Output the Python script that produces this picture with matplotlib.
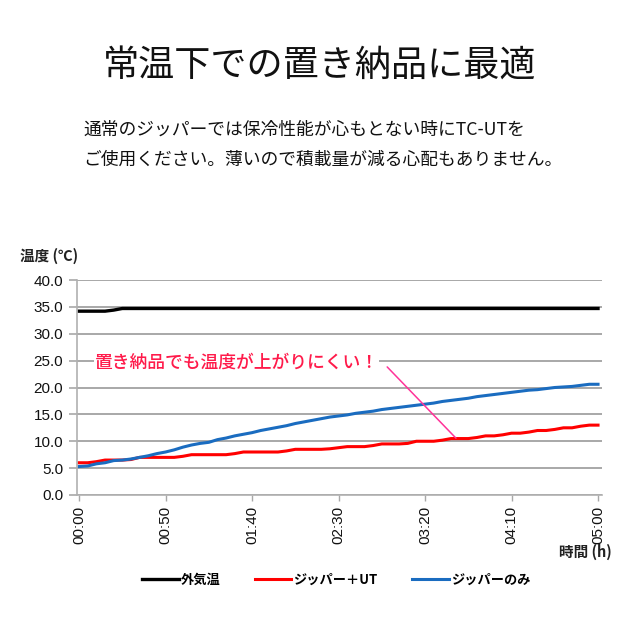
import matplotlib
matplotlib.use("Agg")
import matplotlib.pyplot as plt
import numpy as np

plt.rcParams['font.family'] = ['Noto Sans CJK JP', 'DejaVu Sans']

# ---- data ----
minutes = list(range(0, 301, 5))
outside = [34.2, 34.2, 34.2, 34.2, 34.4, 34.7] + [34.7] * 55
zipper_ut = [6.0, 6.0, 6.2, 6.5, 6.5, 6.5, 6.6, 7.0, 7.0, 7.0, 7.0, 7.0, 7.2, 7.5, 7.5, 7.5,
             7.5, 7.5, 7.7, 8.0, 8.0, 8.0, 8.0, 8.0, 8.2, 8.5, 8.5, 8.5, 8.5, 8.6, 8.8, 9.0,
             9.0, 9.0, 9.2, 9.5, 9.5, 9.5, 9.6, 10.0, 10.0, 10.0, 10.2, 10.5, 10.5, 10.5, 10.7,
             11.0, 11.0, 11.2, 11.5, 11.5, 11.7, 12.0, 12.0, 12.2, 12.5, 12.5, 12.8, 13.0, 13.0]
zipper_only = [5.3, 5.4, 5.8, 6.0, 6.4, 6.5, 6.7, 7.0, 7.3, 7.7, 8.0, 8.4, 8.9, 9.3, 9.6, 9.8,
               10.3, 10.6, 11.0, 11.3, 11.6, 12.0, 12.3, 12.6, 12.9, 13.3, 13.6, 13.9, 14.2,
               14.5, 14.7, 14.9, 15.2, 15.4, 15.6, 15.9, 16.1, 16.3, 16.5, 16.7, 16.9, 17.1,
               17.4, 17.6, 17.8, 18.0, 18.3, 18.5, 18.7, 18.9, 19.1, 19.3, 19.5, 19.6, 19.8,
               20.0, 20.1, 20.2, 20.4, 20.6, 20.6]
series_names = ['外気温', 'ジッパー＋UT', 'ジッパーのみ']
xtick_minutes = [0, 50, 100, 150, 200, 250, 300]
xtick_labels = ['00:00', '00:50', '01:40', '02:30', '03:20', '04:10', '05:00']
yticks = [0, 5, 10, 15, 20, 25, 30, 35, 40]

title = '常温下での置き納品に最適'
sub1 = '通常のジッパーでは保冷性能が心もとない時にTC-UTを'
sub2 = 'ご使用ください。薄いので積載量が減る心配もありません。'
note = '置き納品でも温度が上がりにくい！'

W, H = 640, 640
fig = plt.figure(figsize=(6.4, 6.4), dpi=100)
fig.patch.set_facecolor('white')

ax = fig.add_axes([77 / W, 1 - 495 / H, (602 - 77) / W, (495 - 280) / H])
ax.set_xlim(-1.2, 302.3)
ax.set_ylim(0, 40)

ax.set_yticks(yticks)
ax.set_yticklabels([f'{v:.1f}' for v in yticks])
ax.set_xticks(xtick_minutes)
ax.set_xticklabels(xtick_labels, rotation=90)
ax.yaxis.grid(True, color='#a8a8a8', linewidth=1.4)
ax.set_axisbelow(True)
for s in ['top', 'right']:
    ax.spines[s].set_visible(False)
ax.spines['left'].set_color('#b0b0b0')
ax.spines['bottom'].set_color('#b0b0b0')
ax.spines['left'].set_linewidth(1.2)
ax.spines['bottom'].set_linewidth(1.2)
ax.tick_params(axis='y', length=6, color='#a8a8a8', width=1.2, pad=4)
ax.tick_params(axis='x', length=4, color='#a8a8a8', width=1.0, pad=4)
for lab in ax.get_yticklabels() + ax.get_xticklabels():
    lab.set_family(['Liberation Sans', 'DejaVu Sans'])
    lab.set_fontsize(11)
    lab.set_color('#111111')

l1, = ax.plot(minutes, outside, color='#000000', lw=2.4, label=series_names[0])
l2, = ax.plot(minutes, zipper_ut, color='#ff0000', lw=2.2, label=series_names[1])
l3, = ax.plot(minutes, zipper_only, color='#1a6cc0', lw=2.2, label=series_names[2])

# annotation
ax.annotate('', xy=(219, 10.2), xytext=(177, 24.2),
            arrowprops=dict(arrowstyle='-', color='#ff3399', lw=1.1))
ax.text(9, 24.7, note, color='#ff1a4a', fontsize=12.8, fontweight='medium',
        va='center', ha='left',
        bbox=dict(facecolor='white', edgecolor='none', pad=0.5))

# texts
fig.text(0.5, 1 - 67 / H, title, ha='center', va='center', fontsize=26, color='#111111')
fig.text(83 / W, 1 - 130 / H, sub1, ha='left', va='center', fontsize=12.8, color='#111111')
fig.text(83 / W, 1 - 160 / H, sub2, ha='left', va='center', fontsize=12.8, color='#111111')
fig.text(20 / W, 1 - 256 / H, '温度 (℃)', ha='left', va='center', fontsize=10.5,
         fontweight='bold', color='#222222')
fig.text(612 / W, 1 - 552 / H, '時間 (h)', ha='right', va='center', fontsize=10.5,
         fontweight='bold', color='#222222')

leg = fig.legend(handles=[l1, l2, l3], loc='center', bbox_to_anchor=(336 / W, 1 - 580 / H),
                 ncol=3, frameon=False, fontsize=9.5, handlelength=2.8,
                 handletextpad=0.15, columnspacing=2.6)
for t in leg.get_texts():
    t.set_fontweight('bold')

fig.savefig('out.png', dpi=100, facecolor='white')
